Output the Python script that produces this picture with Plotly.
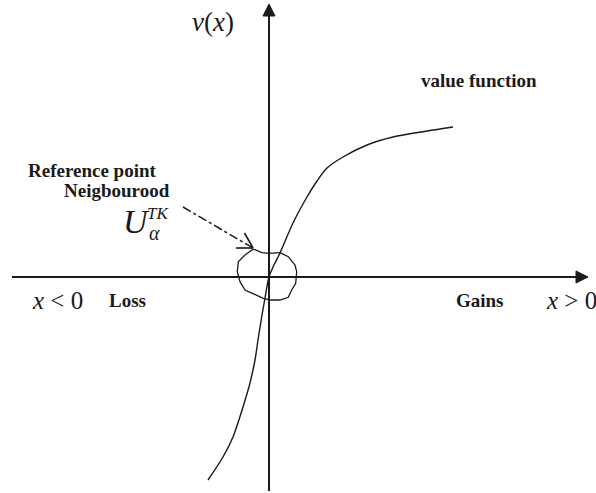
import plotly.graph_objects as go

# Value function curve (origin = reference point)
curve_x = [-61, -46, -36, -26, -19, -14, -11, -7, -4, 0, 5, 11, 24, 38, 48, 58, 74, 98, 124, 158, 184]
curve_y = [-203, -180, -160, -130, -106, -83, -63, -38, -21, 0, 12, 24, 54, 80, 96, 109, 120, 132, 140, 146, 150]

# Reference point neighbourhood outline
nb_x = [-15.7, -7.3, 0, 11, 19.3, 26, 27.7, 26.7, 22.7, 19.3, 11, 1, -5.7, -17.3, -24, -29, -31.7, -30.7, -24, -15.7]
nb_y = [28, 24.3, 23.7, 24.3, 20.3, 12, 5.3, -6.3, -13, -20.3, -23, -23, -21.3, -16.3, -13, -4.7, 5.3, 15.3, 22, 28]

# Arrow from label to neighbourhood
arrow_start = (-86, 70)
arrow_tip = (-16, 29)
arrow_barbs = [(-33, 29), (-24.5, 44)]

X_RANGE = [-269, 327]
Y_RANGE = [-216, 277]

fig = go.Figure()
fig.add_trace(go.Scatter(x=curve_x, y=curve_y, mode="lines",
                         line=dict(color="#1a1a1a", width=1.4, shape="spline", smoothing=0.8),
                         hoverinfo="skip", showlegend=False))
fig.add_trace(go.Scatter(x=nb_x, y=nb_y, mode="lines",
                         line=dict(color="#1a1a1a", width=1.3),
                         hoverinfo="skip", showlegend=False))

ax_col = "#1a1a1a"
shapes = [
    # horizontal axis
    dict(type="line", x0=-257, y0=0, x1=309, y1=0, line=dict(color=ax_col, width=2)),
    dict(type="path", path="M 307,6 L 319,0 L 307,-6 Z", fillcolor=ax_col, line=dict(color=ax_col, width=1)),
    # vertical axis
    dict(type="line", x0=0, y0=-214, x1=0, y1=263, line=dict(color=ax_col, width=2)),
    dict(type="path", path="M -6,261 L 0,273 L 6,261 Z", fillcolor=ax_col, line=dict(color=ax_col, width=1)),
    # dash-dot arrow
    dict(type="line", x0=arrow_start[0], y0=arrow_start[1], x1=arrow_tip[0], y1=arrow_tip[1],
         line=dict(color=ax_col, width=1.5, dash="dashdot")),
]
for bx, by in arrow_barbs:
    shapes.append(dict(type="line", x0=bx, y0=by, x1=arrow_tip[0], y1=arrow_tip[1],
                       line=dict(color=ax_col, width=1.6)))

serif = "Liberation Serif, Times New Roman, serif"
ann = []
def text(x, y, s, size, xanchor="center"):
    ann.append(dict(x=x, y=y, xref="x", yref="y", text=s, showarrow=False,
                    font=dict(family=serif, size=size, color="#1a1a1a"), xanchor=xanchor, yanchor="middle"))

text(-56, 255, "<i>v</i>(<i>x</i>)", 27)
text(210, 197, "<b>value function</b>", 19)
text(-177, 107, "<b>Reference point</b>", 19)
text(-152, 87, "<b>Neigbourood</b>", 19)
text(-133, 56, "<i>U</i>", 34)
text(-111, 64, "<i>TK</i>", 17)
text(-115, 44, "<i>α</i>", 20)
text(-212, -23, "<i>x</i> < 0", 25)
text(-142, -23, "<b>Loss</b>", 19)
text(211, -23, "<b>Gains</b>", 19)
text(302, -23, "<i>x</i> > 0", 25)

fig.update_layout(
    width=596, height=493, margin=dict(l=0, r=0, t=0, b=0),
    paper_bgcolor="white", plot_bgcolor="white",
    xaxis=dict(range=X_RANGE, visible=False, fixedrange=True),
    yaxis=dict(range=Y_RANGE, visible=False, fixedrange=True),
    shapes=shapes, annotations=ann, showlegend=False,
)
fig.write_html("out.html", config={"displayModeBar": False},
               post_script="document.body.style.margin='0';document.body.style.overflow='hidden';")
